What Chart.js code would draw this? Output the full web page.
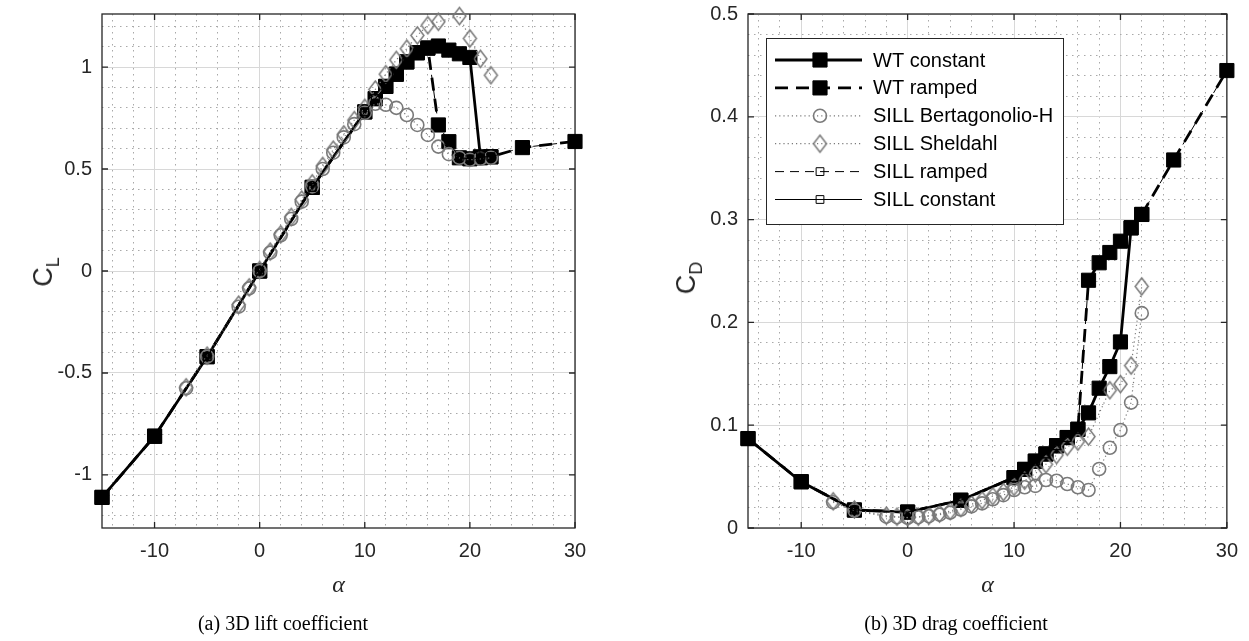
<!DOCTYPE html>
<html><head><meta charset="utf-8">
<script src="https://cdn.jsdelivr.net/npm/chart.js@4"></script>
<style>
html,body{margin:0;padding:0;background:#fff;width:1249px;height:641px;overflow:hidden;}
.box{position:absolute;top:0;height:641px;}
.ylab{position:absolute;font-family:'Liberation Sans',Arial,sans-serif;font-size:27px;color:#262626;transform:translate(-50%,-50%) rotate(-90deg);white-space:nowrap;line-height:1;}
.ylab sub{font-size:18px;vertical-align:-7px;}
.cap{position:absolute;font-family:'Liberation Serif','Times New Roman',serif;font-size:20px;color:#000;transform:translate(-50%,-50%);white-space:nowrap;}
</style></head><body>
<div class="box" style="left:0;width:620px"><canvas id="c1"></canvas></div>
<div class="box" style="left:620px;width:629px"><canvas id="c2"></canvas></div>
<div class="ylab" style="left:46px;top:272px">C<sub>L</sub></div>
<div class="ylab" style="left:689px;top:278px">C<sub>D</sub></div>
<div class="cap" style="left:283px;top:623px">(a) 3D lift coefficient</div>
<div class="cap" style="left:956px;top:623px">(b) 3D drag coefficient</div>
<script>
// ---------------- data ----------------
const alphaWTConst = [-15,-10,-5,0,5,10,11,12,13,14,15,16,17,18,19,20,21,22];
const alphaWTRamp  = [-15,-10,-5,0,5,10,11,12,13,14,15,16,17,18,19,20,21,22,25,30];
const alphaSILLB   = [-7,-5,-2,-1,0,1,2,3,4,5,6,7,8,9,10,11,12,13,14,15,16,17,18,19,20,21,22];
const alphaSILLS   = [-7,-5,-2,-1,0,1,2,3,4,5,6,7,8,9,10,11,12,13,14,15,16,17,19,20,21,22];

const clWTConst = [-1.11,-0.81,-0.42,0.00,0.41,0.78,0.845,0.905,0.965,1.025,1.07,1.093,1.103,1.083,1.065,1.047,0.56,0.56];
const clWTRamp  = [-1.11,-0.81,-0.42,0.00,0.41,0.78,0.845,0.905,0.965,1.025,1.07,1.093,0.716,0.634,0.555,0.55,0.555,0.56,0.605,0.635];
const clSILLB   = [-0.575,-0.42,-0.175,-0.085,0.00,0.09,0.175,0.255,0.34,0.415,0.50,0.58,0.655,0.72,0.775,0.82,0.815,0.80,0.765,0.716,0.667,0.61,0.573,0.555,0.545,0.55,0.555];
const clSILLS   = [-0.57,-0.415,-0.165,-0.08,0.005,0.095,0.18,0.265,0.35,0.43,0.515,0.595,0.67,0.74,0.80,0.89,0.965,1.035,1.09,1.155,1.205,1.222,1.25,1.14,1.04,0.96];
const clSILLRamp  = [-1.11,-0.81,-0.42,0.00,0.41,0.78,0.845,0.905,0.965,1.025,1.07,1.093,0.716,0.634,0.555,0.55,0.555,0.56,0.605,0.635];
const clSILLConst = [-1.11,-0.81,-0.42,0.00,0.41,0.78,0.845,0.905,0.965,1.025,1.07,1.093,1.103,1.083,1.065,1.047,0.56,0.56];

const cdWTConst = [0.087,0.045,0.0175,0.0155,0.027,0.049,0.057,0.065,0.072,0.080,0.088,0.096,0.112,0.136,0.157,0.181,0.292,0.305];
const cdWTRamp  = [0.087,0.045,0.0175,0.0155,0.027,0.049,0.057,0.065,0.072,0.080,0.088,0.096,0.241,0.258,0.268,0.279,0.292,0.305,0.358,0.445];
const cdSILLB   = [0.025,0.017,0.011,0.0105,0.010,0.0105,0.0115,0.013,0.015,0.018,0.021,0.024,0.028,0.032,0.037,0.0396,0.041,0.0467,0.046,0.0428,0.0396,0.037,0.0574,0.078,0.0953,0.122,0.209];
const cdSILLS   = [0.026,0.018,0.012,0.011,0.0105,0.011,0.012,0.014,0.0165,0.0195,0.023,0.027,0.031,0.035,0.040,0.046,0.053,0.062,0.071,0.079,0.084,0.0889,0.134,0.140,0.158,0.235];
const cdSILLRamp  = [0.087,0.045,0.0175,0.0155,0.027,0.049,0.057,0.065,0.072,0.080,0.088,0.096,0.241,0.258,0.268,0.279,0.292,0.305,0.358,0.445];
const cdSILLConst = [0.087,0.045,0.0175,0.0155,0.027,0.049,0.057,0.065,0.072,0.080,0.088,0.096,0.112,0.136,0.157,0.181,0.292,0.305];

const seriesLabels = ['WT constant','WT ramped','SILL Bertagonolio-H','SILL Sheldahl','SILL ramped','SILL constant'];
const xTickVals  = [-10,0,10,20,30];
const clTickVals = [-1,-0.5,0,0.5,1];
const cdTickVals = [0,0.1,0.2,0.3,0.4,0.5];
const xLabel = 'α';

// ---------------- helpers ----------------
const FONT = "'Liberation Sans', Arial, Helvetica, sans-serif";
const AX = '#262626';
const GREY = '#7a7a7a';

const xMinorVals = []; for (let k=-7;k<=15;k++){const v=2*k; if (v%10!==0 && v>-15 && v<30) xMinorVals.push(v);}
const clMinorVals = []; for (let k=-12;k<=12;k++){ if (k%5!==0) clMinorVals.push(k/10);}
const cdMinorVals = []; for (let k=1;k<=24;k++){ if (k%5!==0) cdMinorVals.push(k/50);}

function diamondCanvas(w,h,color,lw){
  const c=document.createElement('canvas'); c.width=w+4; c.height=h+4;
  const g=c.getContext('2d'); const cx=c.width/2, cy=c.height/2;
  g.beginPath(); g.moveTo(cx,cy-h/2); g.lineTo(cx+w/2,cy); g.lineTo(cx,cy+h/2); g.lineTo(cx-w/2,cy); g.closePath();
  g.strokeStyle=color; g.lineWidth=lw; g.stroke(); return c;
}
const diamond = diamondCanvas(13,17,GREY,1.5);

const styles = [
  {borderColor:'#000', borderWidth:2.8, borderDash:[], pointStyle:'rect', pointRadius:10, pointBackgroundColor:'#000', pointBorderColor:'#000', pointBorderWidth:1, order:5},
  {borderColor:'#000', borderWidth:2.8, borderDash:[13,8], pointStyle:'rect', pointRadius:10, pointBackgroundColor:'#000', pointBorderColor:'#000', pointBorderWidth:1, order:4},
  {borderColor:GREY, borderWidth:1.2, borderDash:[1.2,3], pointStyle:'circle', pointRadius:6.5, pointBackgroundColor:'rgba(0,0,0,0)', pointBorderColor:GREY, pointBorderWidth:1.6, order:3},
  {borderColor:GREY, borderWidth:1.2, borderDash:[1.2,3], pointStyle:diamond, pointRadius:7, pointBackgroundColor:'rgba(0,0,0,0)', pointBorderColor:GREY, pointBorderWidth:1.5, order:2},
  {borderColor:'#000', borderWidth:1, borderDash:[9,6], pointStyle:'rect', pointRadius:5.5, pointBackgroundColor:'rgba(0,0,0,0)', pointBorderColor:'#000', pointBorderWidth:1, order:1},
  {borderColor:'#000', borderWidth:1, borderDash:[], pointStyle:'rect', pointRadius:5.5, pointBackgroundColor:'rgba(0,0,0,0)', pointBorderColor:'#000', pointBorderWidth:1, order:0}
];

function ds(i, xs, ys){
  return Object.assign({label:seriesLabels[i], data:xs.map((x,j)=>({x:x,y:ys[j]})), fill:false, tension:0, clip:false, showLine:true, pointHoverRadius:0}, styles[i]);
}

function drawMarker(ctx, st, x, y){
  const s = st.pointStyle;
  if (s instanceof HTMLCanvasElement){ ctx.drawImage(s, x-s.width/2, y-s.height/2); return; }
  ctx.beginPath();
  const r = st.pointRadius;
  if (s==='rect'){ const h=r*Math.SQRT1_2; ctx.rect(x-h,y-h,2*h,2*h); }
  else if (s==='circle'){ ctx.arc(x,y,r,0,Math.PI*2); }
  if (st.pointBackgroundColor && st.pointBackgroundColor!=='rgba(0,0,0,0)'){ ctx.fillStyle=st.pointBackgroundColor; ctx.fill(); }
  ctx.setLineDash([]); ctx.lineWidth=st.pointBorderWidth; ctx.strokeStyle=st.pointBorderColor; ctx.stroke();
}

const framePlugin = {
  id:'frame',
  beforeDatasetsDraw(chart, args, opts){
    const {ctx, chartArea:a, scales} = chart;
    ctx.save();
    ctx.setLineDash([]); ctx.strokeStyle=AX; ctx.lineWidth=1.3;
    ctx.strokeRect(a.left, a.top, a.right-a.left, a.bottom-a.top);
    const tl=6;
    ctx.beginPath();
    xTickVals.forEach(v=>{const p=scales.x.getPixelForValue(v); ctx.moveTo(p,a.bottom); ctx.lineTo(p,a.bottom-tl); ctx.moveTo(p,a.top); ctx.lineTo(p,a.top+tl);});
    opts.yTicks.forEach(v=>{const p=scales.y.getPixelForValue(v); ctx.moveTo(a.left,p); ctx.lineTo(a.left+tl,p); ctx.moveTo(a.right,p); ctx.lineTo(a.right-tl,p);});
    ctx.stroke();
    ctx.restore();
  }
};

const legendPlugin = {
  id:'mlegend',
  afterDatasetsDraw(chart){
    const {ctx, chartArea:a} = chart;
    const L=a.left+18, T=a.top+24, R=L+297, B=T+186;
    ctx.save();
    ctx.fillStyle='#fff'; ctx.fillRect(L,T,R-L,B-T);
    ctx.setLineDash([]); ctx.strokeStyle=AX; ctx.lineWidth=1; ctx.strokeRect(L+0.5,T+0.5,R-L,B-T);
    chart.data.datasets.forEach((d,i)=>{
      const y = T+22+i*27.9;
      ctx.beginPath(); ctx.setLineDash(d.borderDash||[]); ctx.lineWidth=d.borderWidth; ctx.strokeStyle=d.borderColor;
      ctx.moveTo(L+9,y); ctx.lineTo(L+96,y); ctx.stroke();
      drawMarker(ctx, d, L+54, y);
      ctx.fillStyle='#000'; ctx.font='20px '+FONT; ctx.textBaseline='middle'; ctx.textAlign='left';
      ctx.fillText(d.label, L+107, y+1);
    });
    ctx.restore();
  }
};

function makeScales(yMin, yMax, yTicks, yMinor, yWidth){
  const tf = {family:FONT, size:20};
  return {
    x: {type:'linear', position:'bottom', min:-15, max:30,
        afterBuildTicks:s=>{s.ticks=xTickVals.map(v=>({value:v}));},
        afterFit:s=>{s.height=113;},
        grid:{color:'#d8d8d8', lineWidth:1, drawTicks:false},
        border:{display:false},
        ticks:{font:tf, color:AX, padding:11, maxRotation:0, autoSkip:false, callback:v=>String(v)},
        title:{display:true, text:xLabel, color:AX, font:{family:"'Liberation Serif','Times New Roman',serif", size:24, style:'italic'}, padding:{top:0,bottom:41}}},
    xm:{type:'linear', position:'bottom', min:-15, max:30,
        afterBuildTicks:s=>{s.ticks=xMinorVals.map(v=>({value:v}));},
        afterFit:s=>{s.height=0;},
        grid:{color:'#a9a9a9', lineWidth:1, drawTicks:false},
        border:{display:false, dash:[1.5,4.5]},
        ticks:{display:false}},
    y: {type:'linear', position:'left', min:yMin, max:yMax,
        afterBuildTicks:s=>{s.ticks=yTicks.map(v=>({value:v}));},
        afterFit:s=>{s.width=yWidth; s.paddingTop=0; s.paddingBottom=0;},
        grid:{color:'#d8d8d8', lineWidth:1, drawTicks:false},
        border:{display:false},
        ticks:{font:tf, color:AX, padding:10, autoSkip:false, callback:v=>String(v)}},
    ym:{type:'linear', position:'left', min:yMin, max:yMax,
        afterBuildTicks:s=>{s.ticks=yMinor.map(v=>({value:v}));},
        afterFit:s=>{s.width=0; s.paddingTop=0; s.paddingBottom=0;},
        grid:{color:'#a9a9a9', lineWidth:1, drawTicks:false},
        border:{display:false, dash:[1.5,4.5]},
        ticks:{display:false}}
  };
}

function baseOptions(padRight, scales, yTicks){
  return {
    responsive:true, maintainAspectRatio:false, animation:false, devicePixelRatio:1,
    layout:{padding:{left:0, right:padRight, top:14, bottom:0}},
    plugins:{legend:{display:false}, tooltip:{enabled:false}, frame:{yTicks:yTicks}},
    events:[],
    scales:scales
  };
}

new Chart(document.getElementById('c1'), {
  type:'line',
  data:{datasets:[
    ds(0, alphaWTConst, clWTConst),
    ds(1, alphaWTRamp, clWTRamp),
    ds(2, alphaSILLB, clSILLB),
    ds(3, alphaSILLS, clSILLS),
    ds(4, alphaWTRamp, clSILLRamp),
    ds(5, alphaWTConst, clSILLConst)
  ]},
  options: baseOptions(45, makeScales(-1.26, 1.26, clTickVals, clMinorVals, 102), clTickVals),
  plugins:[framePlugin]
});

new Chart(document.getElementById('c2'), {
  type:'line',
  data:{datasets:[
    ds(0, alphaWTConst, cdWTConst),
    ds(1, alphaWTRamp, cdWTRamp),
    ds(2, alphaSILLB, cdSILLB),
    ds(3, alphaSILLS, cdSILLS),
    ds(4, alphaWTRamp, cdSILLRamp),
    ds(5, alphaWTConst, cdSILLConst)
  ]},
  options: baseOptions(22, makeScales(0, 0.5, cdTickVals, cdMinorVals, 128), cdTickVals),
  plugins:[framePlugin, legendPlugin]
});
</script>
</body></html>
